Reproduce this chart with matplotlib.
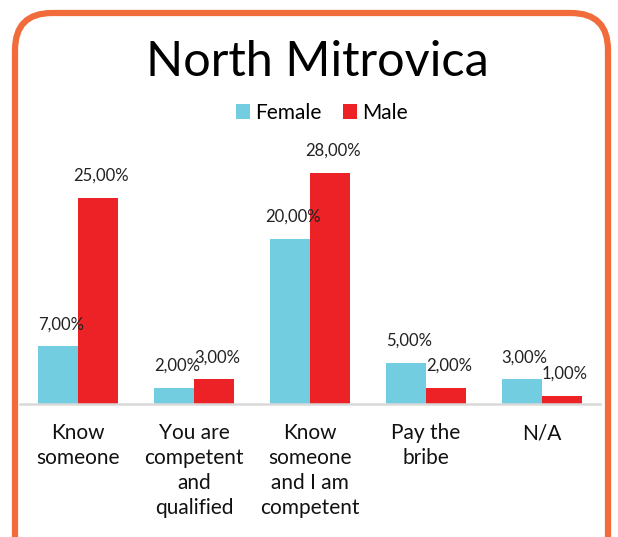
import numpy as np
import matplotlib
matplotlib.use("Agg")
import matplotlib.pyplot as plt
from matplotlib.patches import FancyBboxPatch

plt.rcParams['font.family'] = ['Lato', 'DejaVu Sans']

categories = ["Know\nsomeone", "You are\ncompetent\nand\nqualified",
              "Know\nsomeone\nand I am\ncompetent", "Pay the\nbribe", "N/A"]
female = [7.0, 2.0, 20.0, 5.0, 3.0]
male = [25.0, 3.0, 28.0, 2.0, 1.0]

c_female = "#72CDE0"
c_male = "#EC2227"
c_border = "#F26B3B"

W, H = 618, 537
fig = plt.figure(figsize=(W / 100, H / 100), dpi=100)
fig.patch.set_facecolor("white")

# rounded orange frame
frame = FancyBboxPatch((15 / W, -0.1), (608 - 15) / W, (1 - 13 / H) + 0.1,
                       boxstyle="round,pad=0,rounding_size=0.06",
                       transform=fig.transFigure, facecolor="none",
                       edgecolor=c_border, linewidth=4.5, zorder=0,
                       mutation_aspect=W / H)
fig.patches.append(frame)

ax = fig.add_axes([20 / W, (H - 404) / H, 580 / W, (404 - 156.5) / H])
ax.set_facecolor("none")
ax.set_zorder(2)

x = np.arange(len(categories))
bw = 0.345
b1 = ax.bar(x - bw / 2, female, bw, color=c_female, label="Female", zorder=2)
b2 = ax.bar(x + bw / 2, male, bw, color=c_male, label="Male", zorder=2)

for bars, vals in ((b1, female), (b2, male)):
    for b, v in zip(bars, vals):
        ax.annotate(f"{v:.2f}".replace(".", ",") + "%",
                    (b.get_x() + b.get_width() / 2, v),
                    xytext=(2, 10), textcoords="offset points",
                    ha="center", va="bottom", fontsize=12, color="#222222",
                    annotation_clip=False)

ax.set_xlim(-0.5, 4.5)
ax.set_ylim(0, 30)
ax.set_yticks([])
ax.set_xticks(x)
ax.set_xticklabels(categories, fontsize=15, color="#111111", va="top")
for t in ax.get_xticklabels():
    t.set_linespacing(1.3)
ax.tick_params(axis="x", length=0, pad=14)
for s in ["top", "right", "left"]:
    ax.spines[s].set_visible(False)
ax.spines["bottom"].set_color("#D9D9D9")
ax.spines["bottom"].set_linewidth(1.8)

fig.text(317 / W, 1 - 62 / H, "North Mitrovica", ha="center", va="center",
         fontsize=35, color="black")

fig.legend(handles=[b1, b2], labels=["Female", "Male"],
           loc="center", bbox_to_anchor=(322 / W, 1 - 113 / H), ncol=2,
           frameon=False, fontsize=15, handlelength=0.7, handleheight=0.7,
           handletextpad=0.25, columnspacing=1.0)

fig.savefig("out.png", dpi=100)
